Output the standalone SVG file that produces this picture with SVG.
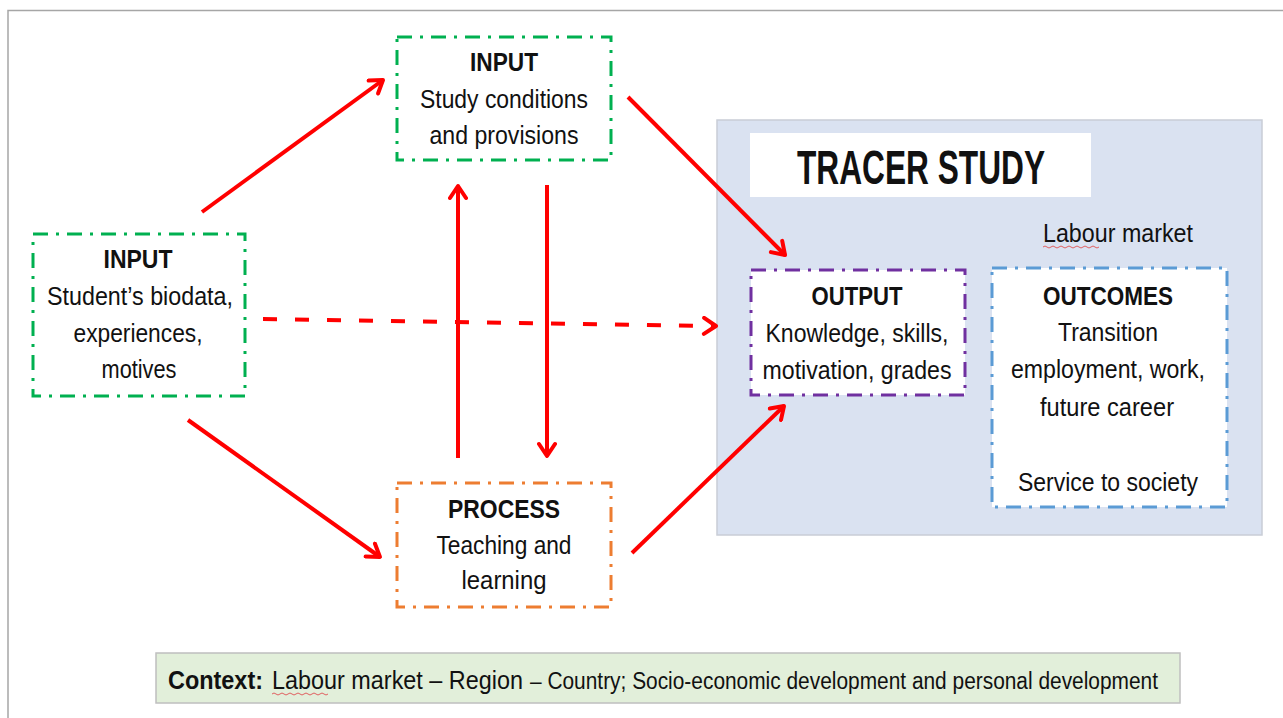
<svg xmlns="http://www.w3.org/2000/svg" width="1283" height="718" viewBox="0 0 1283 718">
<defs>
<style>
.t{font-family:"Liberation Sans",Arial,sans-serif;font-size:26px;fill:#111;text-anchor:middle}
.b{font-weight:bold}
.s{text-anchor:start}
.big{font-size:48px}
.sm{font-size:23px}
.box{fill:#fff;stroke-width:3;stroke-dasharray:15 8 3 8}
.g{stroke:#00B050}
.o{stroke:#ED7D31}
.p{stroke:#7030A0}
.bl{stroke:#5B9BD5}
.arr{stroke:#FF0000;stroke-width:4;fill:none;marker-end:url(#ah)}
.sq{fill:none;stroke:#E06060;stroke-width:1}
</style>
<marker id="ah" viewBox="0 0 20 20" refX="17" refY="10" markerWidth="20" markerHeight="20" markerUnits="userSpaceOnUse" orient="auto">
<path d="M5,2 L17,10 L5,18" fill="none" stroke="#FF0000" stroke-width="4" stroke-linecap="round" stroke-linejoin="round"/>
</marker>
</defs>
<rect width="1283" height="718" fill="#fff"/>
<path d="M8,718 V10.5 H1283" fill="none" stroke="#A6A6A6" stroke-width="1.5"/>

<g id="tracer">
<rect x="717" y="120" width="545" height="415" fill="#DAE2F1" stroke="#C9CDD6" stroke-width="1.5"/>
<rect x="750" y="133" width="341" height="64" fill="#fff"/>
<text class="t b big" x="921" y="184" textLength="248" lengthAdjust="spacingAndGlyphs">TRACER STUDY</text>
<text class="t" x="1118" y="242" textLength="150" lengthAdjust="spacingAndGlyphs">Labour market</text>
<path class="sq" d="M1043,247 q2,-2 4,0 t4,0 t4,0 t4,0 t4,0 t4,0 t4,0 t4,0 t4,0 t4,0 t4,0 t4,0 t4,0 t4,0"/>
</g>

<g id="input-top">
<rect class="box g" x="397" y="37" width="214" height="123"/>
<text class="t b" x="504" y="71" textLength="68" lengthAdjust="spacingAndGlyphs">INPUT</text>
<text class="t" x="504" y="108" textLength="168" lengthAdjust="spacingAndGlyphs">Study conditions</text>
<text class="t" x="504" y="144" textLength="149" lengthAdjust="spacingAndGlyphs">and provisions</text>
</g>

<g id="input-left">
<rect class="box g" x="33" y="234" width="212" height="162"/>
<text class="t b" x="138" y="268" textLength="69" lengthAdjust="spacingAndGlyphs">INPUT</text>
<text class="t" x="140" y="305" textLength="186" lengthAdjust="spacingAndGlyphs">Student’s biodata,</text>
<text class="t" x="138" y="342" textLength="129" lengthAdjust="spacingAndGlyphs">experiences,</text>
<text class="t" x="139" y="378" textLength="75" lengthAdjust="spacingAndGlyphs">motives</text>
</g>

<g id="process">
<rect class="box o" x="397" y="483" width="214" height="124"/>
<text class="t b" x="504" y="518" textLength="112" lengthAdjust="spacingAndGlyphs">PROCESS</text>
<text class="t" x="504" y="554" textLength="135" lengthAdjust="spacingAndGlyphs">Teaching and</text>
<text class="t" x="504" y="589" textLength="85" lengthAdjust="spacingAndGlyphs">learning</text>
</g>

<g id="output">
<rect class="box p" x="751" y="270" width="214" height="125"/>
<text class="t b" x="857" y="305" textLength="91" lengthAdjust="spacingAndGlyphs">OUTPUT</text>
<text class="t" x="857" y="342" textLength="183" lengthAdjust="spacingAndGlyphs">Knowledge, skills,</text>
<text class="t" x="857" y="379" textLength="189" lengthAdjust="spacingAndGlyphs">motivation, grades</text>
</g>

<g id="outcomes">
<rect class="box bl" x="992" y="268" width="235" height="239"/>
<text class="t b" x="1108" y="305" textLength="130" lengthAdjust="spacingAndGlyphs">OUTCOMES</text>
<text class="t" x="1108" y="341" textLength="100" lengthAdjust="spacingAndGlyphs">Transition</text>
<text class="t" x="1108" y="378" textLength="194" lengthAdjust="spacingAndGlyphs">employment, work,</text>
<text class="t" x="1107" y="416" textLength="134" lengthAdjust="spacingAndGlyphs">future career</text>
<text class="t" x="1108" y="491" textLength="180" lengthAdjust="spacingAndGlyphs">Service to society</text>
</g>

<g id="connectors">
<line class="arr" x1="202" y1="212" x2="383" y2="80"/>
<line class="arr" x1="628" y1="97" x2="785" y2="255"/>
<line class="arr" x1="263" y1="319" x2="716" y2="326" stroke-dasharray="14 18"/>
<line class="arr" x1="188" y1="420" x2="380" y2="557"/>
<line class="arr" x1="458" y1="458" x2="458" y2="186"/>
<line class="arr" x1="547" y1="185" x2="547" y2="456"/>
<line class="arr" x1="632" y1="553" x2="784" y2="406"/>
</g>

<g id="context">
<rect x="156" y="653" width="1024" height="50" fill="#E2EFDA" stroke="#BFBFBF" stroke-width="1.5"/>
<text class="t b s" x="168" y="689" textLength="95" lengthAdjust="spacingAndGlyphs">Context:</text>
<text class="t s" x="272" y="689" textLength="251" lengthAdjust="spacingAndGlyphs">Labour market – Region</text>
<text class="t s sm" x="530" y="689" textLength="628" lengthAdjust="spacingAndGlyphs">– Country; Socio-economic development and personal development</text>
<path class="sq" d="M272,694 q2,-2 4,0 t4,0 t4,0 t4,0 t4,0 t4,0 t4,0 t4,0 t4,0 t4,0 t4,0 t4,0 t4,0 t4,0"/>
</g>
</svg>
